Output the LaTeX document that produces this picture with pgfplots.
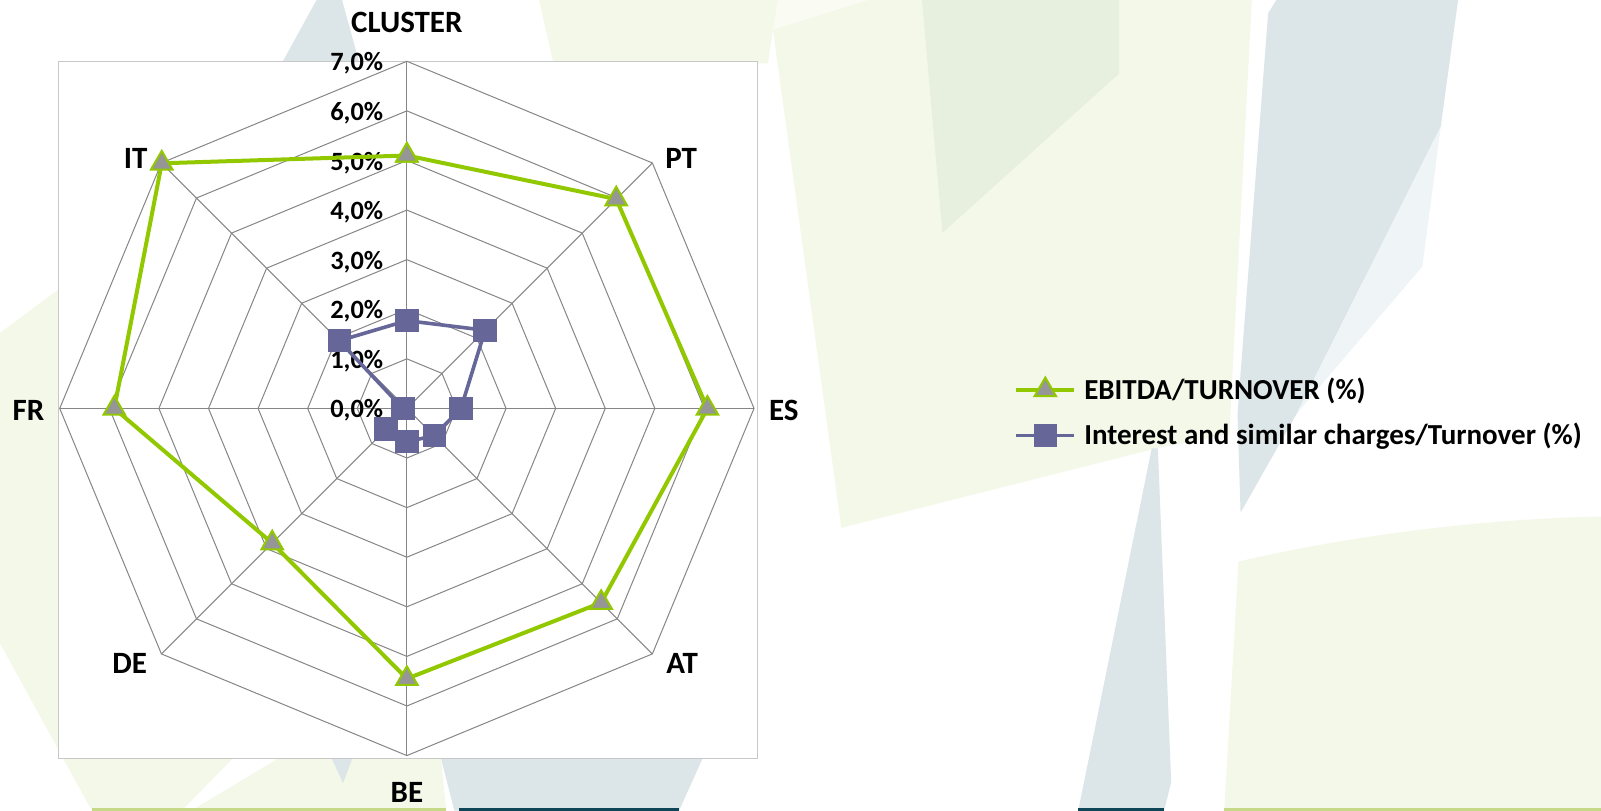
\documentclass[border=0pt]{standalone}
\usepackage{pgfplots}
\pgfplotsset{compat=1.18}
\usepackage{fontspec}
\setmainfont{Carlito}
\definecolor{pgreen}{RGB}{244,248,233}
\definecolor{dgreen}{RGB}{231,239,223}
\definecolor{wgreen}{RGB}{250,252,244}
\definecolor{gblue}{RGB}{220,229,232}
\definecolor{lblue}{RGB}{239,244,247}
\definecolor{tealbar}{RGB}{14,70,87}
\definecolor{bgreen}{RGB}{197,217,134}
\definecolor{ebitda}{RGB}{146,200,0}
\definecolor{tri}{RGB}{150,150,150}
\definecolor{intc}{RGB}{102,102,153}
\definecolor{gridc}{RGB}{134,134,134}
\definecolor{rectc}{RGB}{200,200,200}

\pgfplotstableread{
ang val
90   5.10
45   5.97
0    6.06
-45  5.54
-90  5.45
-135 3.84
180  5.90
135  6.99
90   5.10
}\ebitdatab

\pgfplotstableread{
ang val
90   1.77
45   2.23
0    1.09
-45  0.78
-90  0.67
-135 0.59
180  0.08
135  1.93
90   1.77
}\inttab

\begin{document}
\begin{tikzpicture}
\useasboundingbox (0,0) rectangle (800.46pt,-405.34pt);
\begin{scope}[x=0.5105pt,y=-0.5105pt]
\clip (0,0) rectangle (1568,794);
\fill[white] (0,0) rectangle (1568,794);
% background decoration
\fill[pgreen] (528,0) -- (1226,0) -- (1204,425) -- (1133,439) -- (824,517) -- (757,29) -- (752,62) -- (542,62) -- cycle;
\fill[wgreen] (762,0) -- (850,0) -- (757,29) -- cycle;
\fill[dgreen] (903,0) -- (1096,0) -- (1096,72) -- (923,228) -- cycle;
\fill[gblue] (1250,0) -- (1428,0) -- (1411,124) -- (1270,405) -- (1215,502) -- (1212,405) -- (1242,13) -- cycle;
\fill[lblue] (1411,124) -- (1393,261) -- (1270,405) -- cycle;
\fill[gblue] (1128,439) -- (1134,439) -- (1147,766) -- (1140,794) -- (1056,794) -- cycle;
\fill[pgreen] (1213,550) .. controls (1320,525) and (1450,508) .. (1568,506) -- (1568,794) -- (1199,794) -- cycle;
\fill[pgreen] (0,326) -- (62,280) -- (62,743) -- (432,743) -- (437,794) -- (90,794) -- (0,630) -- cycle;
\fill[white] (228,743) -- (272,743) -- (187,794) -- (178,794) -- cycle;
\fill[gblue] (325,743) -- (345,743) -- (336,767) -- cycle;
\fill[gblue] (432,743) -- (688,743) -- (665,794) -- (445,794) -- cycle;
\fill[gblue] (310,0) -- (335,0) -- (352,62) -- (276,62) -- cycle;
\fill[bgreen] (90,791) rectangle (437,794);
\fill[tealbar] (450,791) rectangle (665,794);
\fill[tealbar] (1056,791) rectangle (1140,794);
\fill[bgreen] (1199,791) rectangle (1568,794);
% plot area
\filldraw[fill=white,draw=rectc,line width=0.7pt] (57.5,60) rectangle (742,743);
\end{scope}

\begin{axis}[
  at={(203.43pt,-204.2pt)}, anchor=center,
  scale only axis, width=347.14pt, height=347.14pt,
  xmin=-7, xmax=7, ymin=-7, ymax=7,
  hide axis, clip=false,
  legend style={at={(axis cs:12.24,-0.085)}, anchor=west, draw=none, fill=none,
    inner sep=0pt, row sep=10.5pt, cells={anchor=west},
    nodes={inner sep=0pt},
    font=\fontsize{14.5}{17}\selectfont\bfseries},
  /tikz/every odd column/.append style={column sep=4pt},
  legend image code/.code={%
    \draw[mark repeat=2,mark phase=2,#1] plot coordinates {(0pt,0pt) (14.5pt,0pt) (29pt,0pt)};},
]
% octagonal grid
\pgfplotsinvokeforeach{1,...,7}{%
  \addplot[gridc, line width=0.5pt, data cs=polar, forget plot] coordinates
  {(90,#1) (45,#1) (0,#1) (-45,#1) (-90,#1) (-135,#1) (180,#1) (135,#1) (90,#1)};
}
\pgfplotsinvokeforeach{90,45,0,-45,-90,-135,180,135}{%
  \addplot[gridc, line width=0.5pt, data cs=polar, forget plot] coordinates {(#1,0) (#1,7)};
}
% tick labels
\pgfplotsinvokeforeach{0,...,7}{%
  \node[anchor=east, inner sep=0pt, font=\fontsize{13.2}{15}\selectfont\bfseries] at (axis cs:-0.47,{#1-0.045}) {#1,0\%};
}
% category labels
\begin{scope}[every node/.style={font=\fontsize{15.5}{18}\selectfont\bfseries, inner sep=0pt}]
\node at (axis cs:0,7.78) {CLUSTER};
\node at (axis cs:5.53,5.04) {PT};
\node at (axis cs:7.6,-0.04) {ES};
\node at (axis cs:5.55,-5.15) {AT};
\node at (axis cs:0,-7.74) {BE};
\node at (axis cs:-5.59,-5.15) {DE};
\node at (axis cs:-7.63,-0.04) {FR};
\node at (axis cs:-5.47,5.04) {IT};
\end{scope}

\addplot[ebitda, line width=2pt, data cs=polar, mark=triangle*, mark size=6.2pt,
  mark options={fill=tri, draw=ebitda, line width=1pt}]
  table[x=ang, y=val] {\ebitdatab};
\addlegendentry{EBITDA/TURNOVER (\%)}
\addplot[intc, line width=1.8pt, data cs=polar, mark=square*, mark size=5.6pt,
  mark options={fill=intc, draw=intc, line width=0.5pt}]
  table[x=ang, y=val] {\inttab};
\addlegendentry{Interest and similar charges/Turnover (\%)}
\end{axis}
\end{tikzpicture}
\end{document}
